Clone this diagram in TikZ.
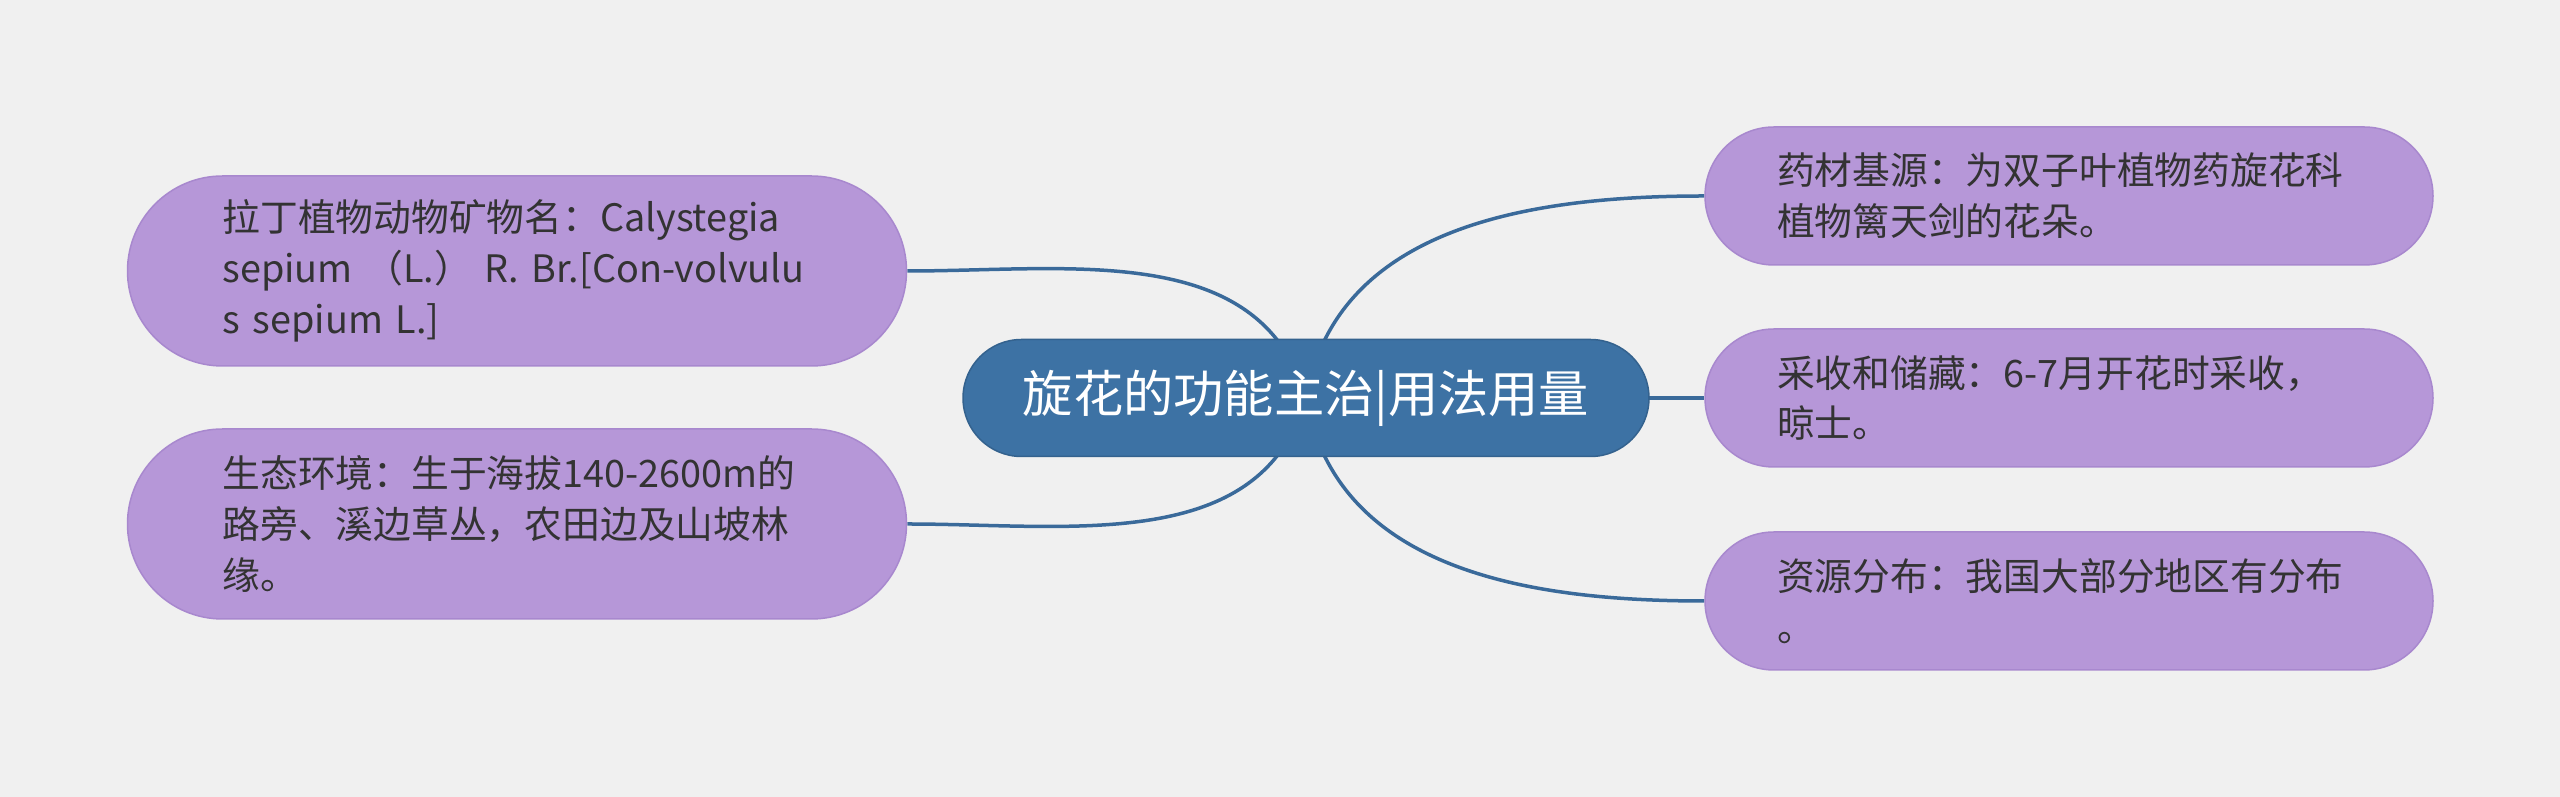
\documentclass[tikz,border=0pt]{standalone}
\usepackage{fontspec}
\setmainfont{Noto Sans CJK SC}
\usetikzlibrary{backgrounds}
\definecolor{pagegray}{RGB}{240,240,240}
\definecolor{rootblue}{RGB}{61,114,164}
\definecolor{rootedge}{RGB}{52,98,142}
\definecolor{leafpurple}{RGB}{182,151,216}
\definecolor{leafedge}{RGB}{168,136,206}
\definecolor{inkgray}{RGB}{51,51,51}
\definecolor{linkblue}{RGB}{58,106,154}

\begin{document}
\begin{tikzpicture}[x=0.1mm,y=-0.1mm,line cap=round,
  hub/.style={draw=rootedge,line width=0.15mm,fill=rootblue,text=white,
    minimum width=68.6mm,minimum height=11.7mm,rounded corners=5.85mm,
    inner sep=0pt,font=\fontsize{14.3pt}{17pt}\selectfont},
  leaf/.style={draw=leafedge,line width=0.15mm,fill=leafpurple,text=inkgray,
    align=left,inner ysep=0pt,font=\fontsize{10.75pt}{14.5pt}\selectfont},
  wideleaf/.style={leaf,text width=58.9mm,inner xsep=9.5mm,
    minimum height=19mm,rounded corners=9.5mm},
  shortleaf/.style={leaf,text width=58.4mm,inner xsep=7.2mm,
    minimum height=13.8mm,rounded corners=6.9mm},
  link/.style={linkblue,line width=0.35mm}]
  \useasboundingbox (0,0) rectangle (2560,797);

  % centre topic
  \node[hub] (root) at (1306,398) {旋花的功能主治|用法用量};

  % left branches
  \node[wideleaf] (latin) at (517,271)
    {拉丁植物动物矿物名：Calystegia\\sepium （L.） R. Br.[Con-volvulu\\s sepium L.]};
  \node[wideleaf] (habitat) at (517,524)
    {生态环境：生于海拔140-2600m的\\路旁、溪边草丛，农田边及山坡林\\缘。};

  % right branches
  \foreach \n/\y/\t in {source/196/{药材基源：为双子叶植物药旋花科\\植物篱天剑的花朵。},
                        harvest/398/{采收和储藏：6-7月开花时采收，\\晾士。},
                        spread/601/{资源分布：我国大部分地区有分布\\。}}{
    \node[shortleaf] (\n) at (2069,\y) {\t};
  }

  \begin{scope}[on background layer]
    \fill[pagegray] (0,0) rectangle (2560,797);
    \draw[link] (root.center) to[out=106,in=0] (latin.east);
    \draw[link] (root.center) to[out=-106,in=0] (habitat.east);
    \draw[link] (root.center) to[out=80,in=180] (source.west);
    \draw[link] (root.center) -- (harvest.west);
    \draw[link] (root.center) to[out=-80,in=180] (spread.west);
  \end{scope}
\end{tikzpicture}
\end{document}
